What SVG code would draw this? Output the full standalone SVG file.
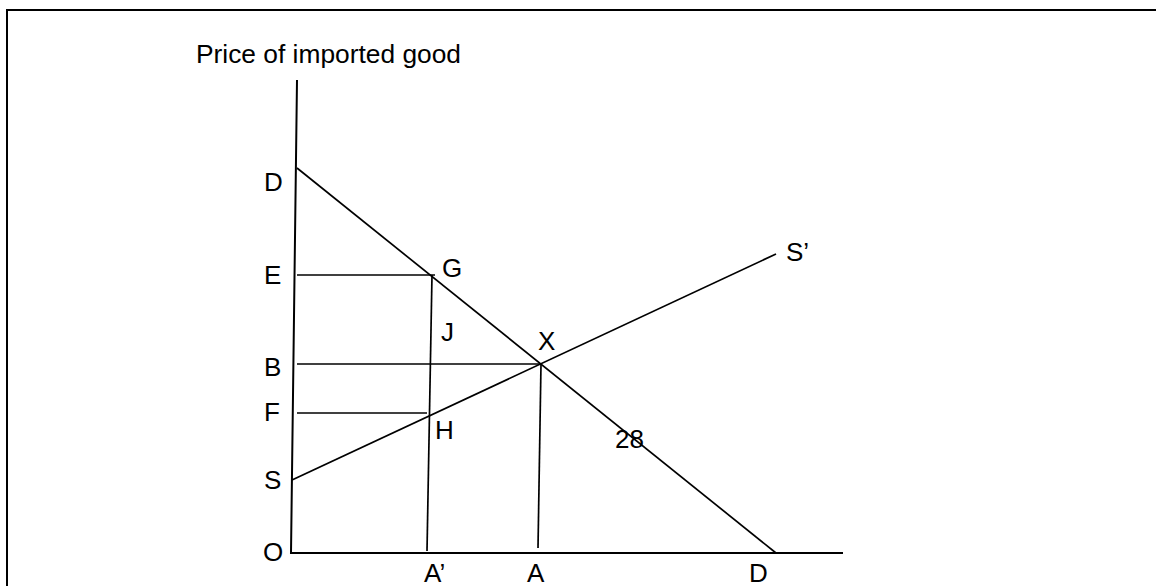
<svg xmlns="http://www.w3.org/2000/svg" width="1156" height="586" viewBox="0 0 1156 586">
<style>
.ln{stroke:#000;stroke-width:1.7;fill:none}
.ax{stroke:#000;stroke-width:2;fill:none}
.lb{font-family:"Liberation Sans",Arial,sans-serif;font-size:26px;fill:#000}
</style>
<rect width="1156" height="586" fill="#fff"/>
<rect x="7" y="10" width="1170" height="600" fill="none" stroke="#000" stroke-width="2"/>
<g id="connectors">
<polyline class="ax" points="297,80 291,553 843,553"/>
<line class="ln" x1="297" y1="168" x2="776" y2="553"/>
<line class="ln" x1="292" y1="480" x2="776" y2="254"/>
<line class="ln" x1="297" y1="275" x2="435" y2="275"/>
<line class="ln" x1="297" y1="364" x2="541" y2="364"/>
<line class="ln" x1="297" y1="413" x2="427" y2="413"/>
<line class="ln" x1="432" y1="275" x2="427" y2="551"/>
<line class="ln" x1="541" y1="364" x2="538" y2="548"/>
</g>
<g id="title"><text class="lb" x="196" y="63" textLength="265" lengthAdjust="spacingAndGlyphs">Price of imported good</text></g>
<g id="label-D-top"><text class="lb" x="264" y="191">D</text></g>
<g id="label-E"><text class="lb" x="264" y="284">E</text></g>
<g id="label-B"><text class="lb" x="264" y="376">B</text></g>
<g id="label-F"><text class="lb" x="264" y="421">F</text></g>
<g id="label-S"><text class="lb" x="264" y="489">S</text></g>
<g id="label-O"><text class="lb" x="263" y="561">O</text></g>
<g id="label-G"><text class="lb" x="442" y="277">G</text></g>
<g id="label-J"><text class="lb" x="441" y="341">J</text></g>
<g id="label-X"><text class="lb" x="538" y="350">X</text></g>
<g id="label-H"><text class="lb" x="435" y="439">H</text></g>
<g id="label-28"><text class="lb" x="615" y="448">28</text></g>
<g id="label-Sprime"><text class="lb" x="786" y="261">S’</text></g>
<g id="label-Aprime"><text class="lb" x="424" y="582">A’</text></g>
<g id="label-A"><text class="lb" x="527" y="582">A</text></g>
<g id="label-D-bottom"><text class="lb" x="749" y="582">D</text></g>
</svg>
